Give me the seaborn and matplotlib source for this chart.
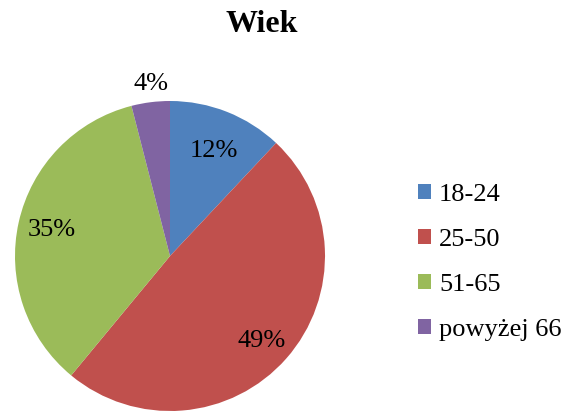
import matplotlib
matplotlib.use("Agg")
import matplotlib.pyplot as plt
import seaborn as sns
from matplotlib.patches import Patch

categories = ["18-24", "25-50", "51-65", "powyżej 66"]
values = [12, 49, 35, 4]
colors = ["#4F81BD", "#C0504D", "#9BBB59", "#8064A2"]
title = "Wiek"

sns.set_theme(style="white")
plt.rcParams['font.family'] = ['Liberation Serif', 'DejaVu Serif']
plt.rcParams['text.color'] = 'black'

fig = plt.figure(figsize=(5.64, 4.12), dpi=100)
ax = fig.add_axes([15/564, 1/412, 310/564, 310/412])
wedges, texts, autotexts = ax.pie(values, colors=colors, startangle=90, counterclock=False,
                                  autopct=lambda p: f"{p:.0f}%", pctdistance=0.78,
                                  textprops=dict(fontsize=19, color="black"),
                                  wedgeprops=dict(linewidth=0))
autotexts[0].set_position((0.28, 0.68))
autotexts[1].set_position((0.59, -0.55))
autotexts[3].set_position((-0.12, 1.11))
ax.set_xlim(-1, 1)
ax.set_ylim(-1, 1)
ax.set_aspect('equal')
ax.axis('off')

fig.text(262/564, 1 - 25/412, title, ha='center', va='center', fontsize=23,
         fontweight='bold', color='black')

handles = [Patch(facecolor=c, edgecolor='none') for c in colors]
fig.legend(handles, categories, loc='upper left', bbox_to_anchor=(418/564, 1 - 184/412),
           frameon=False, fontsize=19, handlelength=0.5, handleheight=0.5,
           handletextpad=0.3, labelspacing=0.87, borderpad=0, borderaxespad=0)

fig.savefig("out.png", dpi=100)
